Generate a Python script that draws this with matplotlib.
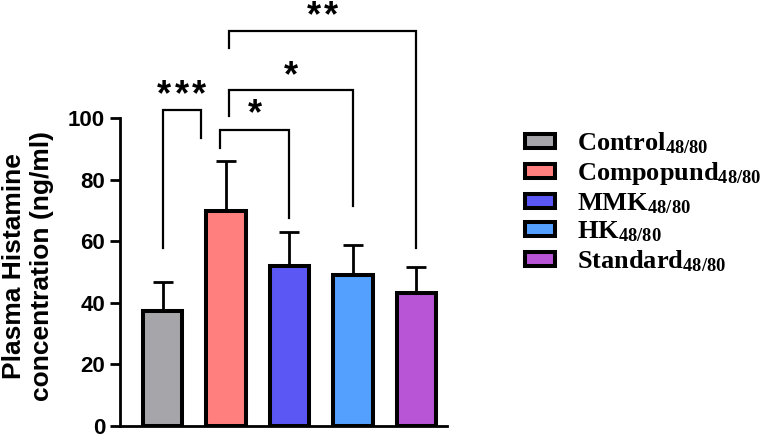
import numpy as np
import matplotlib
matplotlib.use("Agg")
import matplotlib.pyplot as plt

plt.rcParams['font.family'] = ['Liberation Sans', 'DejaVu Sans']
plt.rcParams['mathtext.fontset'] = 'custom'
plt.rcParams['mathtext.rm'] = 'Liberation Serif:bold'
plt.rcParams['mathtext.it'] = 'Liberation Serif:bold'
plt.rcParams['mathtext.bf'] = 'Liberation Serif:bold'

groups = ["Control", "Compopund", "MMK", "HK", "Standard"]
means = [37.5, 69.7, 52.0, 48.9, 43.3]
sds = [9.4, 16.2, 10.9, 9.9, 8.3]
colors = ["#A6A5AA", "#FF7F7F", "#5A57F5", "#54A0FF", "#B755D6"]

# brackets: x left, x right, bar height, left leg end, right leg end, stars, star centre
brackets = [
    (0.0, 0.60, 102.7, 57.7, 93.5, 3, 109.4),
    (0.90, 2.0, 96.2, 90.2, 67.5, 1, 103.2),
    (1.04, 3.0, 109.2, 100.5, 71.3, 1, 115.6),
    (1.04, 4.0, 128.3, 122.7, 57.7, 2, 135.1),
]

fig = plt.figure(figsize=(7.62, 4.37), dpi=100)
ax = fig.add_axes([0.157, 0.025, 0.430, 0.705])

x = np.arange(len(groups))
for i in range(len(groups)):
    ax.bar(x[i], means[i], width=0.62, color=colors[i], edgecolor='black',
           linewidth=2.9, zorder=3,
           label=groups[i] + r"$_{48/80}$")
    ax.errorbar(x[i], means[i], yerr=[[0], [sds[i]]], fmt='none', ecolor='black',
                elinewidth=2, capsize=7, capthick=2, zorder=2)

pitch = 0.276
for xl, xr, yh, yl, yr, n, ys in brackets:
    ax.plot([xl, xl, xr, xr], [yl, yh, yh, yr], color='black', lw=1.6,
            clip_on=False, solid_joinstyle='miter')
    xc = (xl + xr) / 2
    for k in range(n):
        ax.text(xc + (k - (n - 1) / 2) * pitch, ys - 5.2, "*", ha='center',
                va='baseline', fontsize=26, fontweight='bold', clip_on=False)

ax.set_xlim(-0.68, 4.49)
ax.set_ylim(0, 100)
ax.set_yticks([0, 20, 40, 60, 80, 100])
ax.set_xticks([])
ax.spines['top'].set_visible(False)
ax.spines['right'].set_visible(False)
ax.spines['left'].set_linewidth(2)
ax.spines['bottom'].set_linewidth(2)
ax.tick_params(axis='y', length=7, width=2, labelsize=16)
for t in ax.get_yticklabels():
    t.set_fontweight('bold')
ax.set_ylabel("Plasma Histamine\nconcentration (ng/ml)", fontsize=19,
              fontweight='bold')
ax.yaxis.set_label_coords(-0.201, 0.52)

leg = fig.legend(loc='upper left', bbox_to_anchor=(0.675, 0.725), frameon=False,
                 prop={'family': 'Liberation Serif', 'weight': 'bold', 'size': 19},
                 handlelength=1.15, handleheight=0.45, handletextpad=0.83,
                 labelspacing=0.15, borderaxespad=0)

fig.savefig("out.png", dpi=100)
